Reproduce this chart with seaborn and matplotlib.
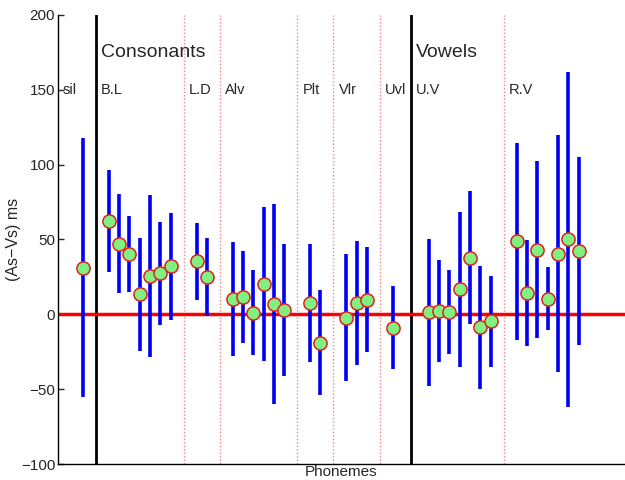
import numpy as np
import pandas as pd
import matplotlib
matplotlib.use('Agg')
import matplotlib.pyplot as plt
import seaborn as sns

# phoneme groups and how many phonemes each holds
groups = ['sil', 'B.L', 'L.D', 'Alv', 'Plt', 'Vlr', 'Uvl', 'U.V', 'R.V']
group_class = ['sil', 'Consonants', 'Consonants', 'Consonants', 'Consonants',
               'Consonants', 'Consonants', 'Vowels', 'Vowels']

# mean (As-Vs) in ms, per phoneme, per group
sil_mean = [31.0]
bl_mean = [62.4, 47.3, 40.1, 13.4, 25.6, 27.4, 32.1]
ld_mean = [35.5, 25.0]
alv_mean = [10.2, 11.6, 0.9, 20.3, 7.1, 3.1]
plt_mean = [7.6, -19.0]
vlr_mean = [-2.2, 7.4, 9.8]
uvl_mean = [-8.9]
uv_mean = [1.3, 2.2, 1.8, 16.7, 37.9, -8.5, -4.7]
rv_mean = [48.8, 14.3, 43.3, 10.5, 40.6, 50.0, 42.3]

# half-length of the error bars (std)
sil_sd = [86.5]
bl_sd = [34.0, 33.3, 25.3, 37.6, 54.3, 34.5, 35.7]
ld_sd = [25.7, 25.9]
alv_sd = [38.3, 31.0, 28.4, 51.2, 66.9, 44.0]
plt_sd = [39.4, 35.0]
vlr_sd = [42.4, 41.3, 35.1]
uvl_sd = [27.6]
uv_sd = [48.9, 34.0, 28.1, 51.8, 44.5, 41.1, 30.3]
rv_sd = [66.0, 35.5, 59.1, 21.2, 79.4, 111.6, 62.8]

means = [sil_mean, bl_mean, ld_mean, alv_mean, plt_mean, vlr_mean, uvl_mean, uv_mean, rv_mean]
sds = [sil_sd, bl_sd, ld_sd, alv_sd, plt_sd, vlr_sd, uvl_sd, uv_sd, rv_sd]

# x positions: 1 unit between phonemes, wider gap between groups
rows = []
pos = 0.0
starts, ends = [], []
for i, g in enumerate(groups):
    if i > 0:
        gap = 3.5 if (group_class[i] != group_class[i - 1] and group_class[i - 1] != 'sil') else 2.5
        pos += gap
    starts.append(pos)
    for j, (m, s) in enumerate(zip(means[i], sds[i])):
        rows.append({'x': pos, 'mean': m, 'sd': s, 'group': g})
        if j < len(means[i]) - 1:
            pos += 1
    ends.append(pos)
df = pd.DataFrame(rows)

sns.set_style('white')
plt.rcParams['font.family'] = ['Liberation Sans', 'DejaVu Sans']

fig = plt.figure(figsize=(6.25, 4.8), dpi=100)
ax = fig.add_axes([58 / 625, 16 / 480, 1 - 58 / 625, 449 / 480])

xmin, xmax = -2.42, 52.5

# separators between groups
for i in range(1, len(groups)):
    xs = (ends[i - 1] + starts[i]) / 2
    if group_class[i] != group_class[i - 1]:
        ax.axvline(xs, color='black', lw=2, zorder=1)
        if group_class[i] != 'sil':
            ax.text(xs + 0.5, 175, group_class[i], fontsize=14, va='center', ha='left')
    else:
        ax.axvline(xs, color='#ff8080', lw=1, ls=(0, (1, 1.5)), zorder=1)
    ax.text(xs + 0.5, 150, groups[i], fontsize=10.5, va='center', ha='left')
ax.text(xmin + 0.42, 150, groups[0], fontsize=10.5, va='center', ha='left')

ax.axhline(0, color='red', lw=2.5, zorder=2)

ax.vlines(df['x'], df['mean'] - df['sd'], df['mean'] + df['sd'],
          color='#0000ee', lw=2.6, zorder=3)
sns.scatterplot(data=df, x='x', y='mean', ax=ax, s=90, color='#80f080',
                edgecolor='#e02020', linewidth=1.1, zorder=4, legend=False)

ax.set_xlim(xmin, xmax)
ax.set_ylim(-100, 200)
ax.set_yticks([-100, -50, 0, 50, 100, 150, 200])
ax.set_yticklabels(['\u2212100', '\u221250', '0', '50', '100', '150', '200'])
ax.set_xticks([])
ax.tick_params(axis='y', direction='in', length=4, width=1, labelsize=11, pad=2, left=True)
for sp in ['top', 'right']:
    ax.spines[sp].set_visible(False)
for sp in ['left', 'bottom']:
    ax.spines[sp].set_color('black')
    ax.spines[sp].set_linewidth(1)

ax.set_ylabel('(As\u2212Vs) ms', fontsize=11.5, labelpad=0)
ax.set_xlabel('Phonemes', fontsize=11, labelpad=1)

fig.savefig('out.png', dpi=100)
